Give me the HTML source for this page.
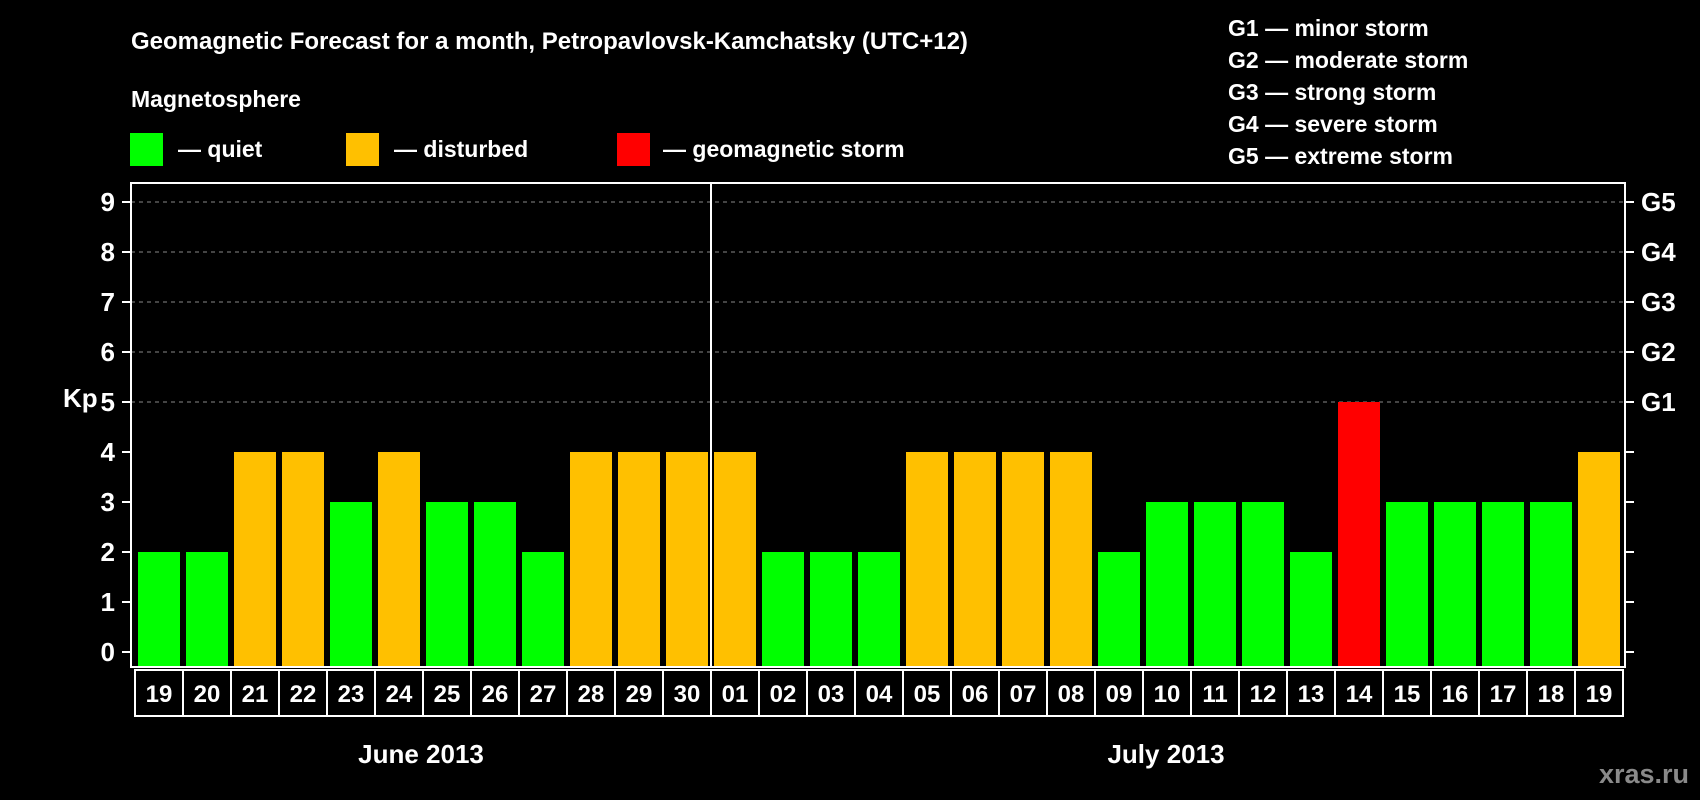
<!DOCTYPE html>
<html><head><meta charset="utf-8"><style>
html,body{margin:0;background:#000;width:1700px;height:800px;overflow:hidden}
svg{display:block;font-family:"Liberation Sans",Arial,sans-serif;font-weight:bold}
</style></head><body>
<svg id="c" width="1700" height="800" xmlns="http://www.w3.org/2000/svg">
<text x="131" y="49" fill="#fff" font-size="24">Geomagnetic Forecast for a month, Petropavlovsk-Kamchatsky (UTC+12)</text>
<text x="131" y="107" fill="#fff" font-size="23">Magnetosphere</text>
<rect x="130" y="133" width="33" height="33" fill="#00ff00"/>
<text x="178" y="157" fill="#fff" font-size="23">— quiet</text>
<rect x="346" y="133" width="33" height="33" fill="#ffc000"/>
<text x="394" y="157" fill="#fff" font-size="23">— disturbed</text>
<rect x="617" y="133" width="33" height="33" fill="#ff0000"/>
<text x="663" y="157" fill="#fff" font-size="23">— geomagnetic storm</text>
<g fill="#fff" font-size="23">
<text x="1228" y="36">G1 — minor storm</text>
<text x="1228" y="68">G2 — moderate storm</text>
<text x="1228" y="100">G3 — strong storm</text>
<text x="1228" y="132">G4 — severe storm</text>
<text x="1228" y="164">G5 — extreme storm</text>
</g>
<text x="63" y="407" fill="#fff" font-size="26">Kp</text>
<text x="421" y="763" fill="#fff" font-size="26" text-anchor="middle">June 2013</text>
<text x="1166" y="763" fill="#fff" font-size="26" text-anchor="middle">July 2013</text>
<text x="1689" y="783" fill="#8a8a8a" font-size="27" text-anchor="end">xras.ru</text>
<g id="plot"></g>
</svg>
<script>
const days = ["19","20","21","22","23","24","25","26","27","28","29","30","01","02","03","04","05","06","07","08","09","10","11","12","13","14","15","16","17","18","19"];
const kpValues = [2,2,4,4,3,4,3,3,2,4,4,4,4,2,2,2,4,4,4,4,2,3,3,3,2,5,3,3,3,3,4];
const yTicks = [0,1,2,3,4,5,6,7,8,9];
const gLabels = ["G1","G2","G3","G4","G5"];
const gLevels = [5,6,7,8,9];
const monthSplit = 12;

const NS="http://www.w3.org/2000/svg";
const g=document.getElementById('plot');
const L=131,R=1625,T=183,B=667;
const y=v=>652-v*50;
const x0=138,pitch=48,bw=42;
const xb=i=>x0+i*pitch;
function mk(t,a){const e=document.createElementNS(NS,t);for(const k in a)e.setAttribute(k,a[k]);g.appendChild(e);return e;}
// grid
gLevels.forEach(v=>{
  const e=mk('line',{x1:L,x2:R,y1:y(v),y2:y(v),stroke:'#888','stroke-dasharray':'4,4','stroke-width':1});
  
  
});
// bars
kpValues.forEach((v,i)=>{
  const col=v>=5?'#ff0000':(v>=4?'#ffc000':'#00ff00');
  const e=mk('rect',{x:xb(i),y:y(v),width:bw,height:B-y(v),fill:col});
  
  
});
// frame
const fr=mk('rect',{x:L,y:T,width:R-L,height:B-T,fill:'none',stroke:'#fff','stroke-width':2});


const dv=mk('line',{x1:xb(monthSplit)-3,x2:xb(monthSplit)-3,y1:T,y2:B,stroke:'#fff','stroke-width':2});


// y ticks
yTicks.forEach(v=>{
  const t=mk('line',{x1:L-9,x2:L,y1:y(v),y2:y(v),stroke:'#fff','stroke-width':2});
  
  
  const t2=mk('line',{x1:R,x2:R+9,y1:y(v),y2:y(v),stroke:'#fff','stroke-width':2});
  
  
  const lb=mk('text',{x:115,y:y(v)+9,fill:'#fff','font-size':26,'text-anchor':'end'});
  lb.textContent=v;
  
  
});
gLabels.forEach((s,i)=>{
  const lb=mk('text',{x:1641,y:y(gLevels[i])+9,fill:'#fff','font-size':26});
  lb.textContent=s;
  
  
});
// day boxes
days.forEach((d,i)=>{
  const bx=mk('rect',{x:135+i*pitch,y:670,width:pitch,height:46,fill:'none',stroke:'#fff','stroke-width':2});
  
  
  const lb=mk('text',{x:135+i*pitch+pitch/2,y:702,fill:'#fff','font-size':24,'text-anchor':'middle'});
  lb.textContent=d;
  
  
});
</script>
</body></html>
